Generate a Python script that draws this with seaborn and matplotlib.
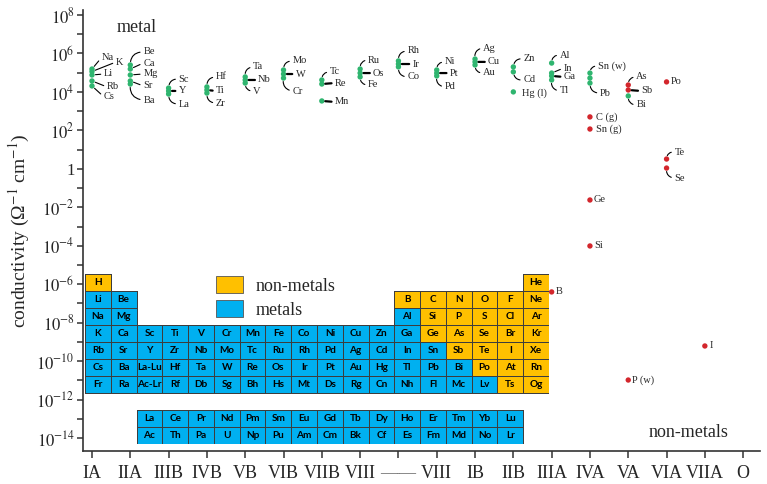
import numpy as np
import pandas as pd
import seaborn as sns
import matplotlib.pyplot as plt
from matplotlib.patches import Patch
from matplotlib.colors import ListedColormap, to_rgba
from matplotlib.ticker import FixedLocator, NullFormatter

# x axis: groups of the periodic table
group_labels = ['IA', 'IIA', 'IIIB', 'IVB', 'VB', 'VIB', 'VIIB', 'VIII', '——', 'VIII',
                'IB', 'IIB', 'IIIA', 'IVA', 'VA', 'VIA', 'VIIA', 'O']

names = ['Na', 'K', 'Li', 'Rb', 'Cs',
         'Be', 'Ca', 'Mg', 'Sr', 'Ba',
         'Sc', 'Y', 'La',
         'Hf', 'Ti', 'Zr',
         'Ta', 'Nb', 'V',
         'Mo', 'W', 'Cr',
         'Tc', 'Re', 'Mn',
         'Ru', 'Os', 'Fe',
         'Rh', 'Ir', 'Co',
         'Ni', 'Pt', 'Pd',
         'Ag', 'Cu', 'Au',
         'Zn', 'Cd', 'Hg (l)',
         'Al', 'In', 'Ga', 'Tl',
         'Sn (w)', 'Sn', 'Pb', 'C (g)', 'Sn (g)', 'Ge', 'Si',
         'As', 'Sb', 'Bi', 'P (w)',
         'Po', 'Te', 'Se',
         'I',
         'B']
group = [0, 0, 0, 0, 0,
         1, 1, 1, 1, 1,
         2, 2, 2,
         3, 3, 3,
         4, 4, 4,
         5, 5, 5,
         6, 6, 6,
         7, 7, 7,
         8, 8, 8,
         9, 9, 9,
         10, 10, 10,
         11, 11, 11,
         12, 12, 12, 12,
         13, 13, 13, 13, 13, 13, 13,
         14, 14, 14, 14,
         15, 15, 15,
         16,
         12]
log_sigma = [5.19, 5.06, 4.88, 4.57, 4.31,
             5.40, 5.19, 4.88, 4.57, 4.41,
             4.20, 4.05, 3.89,
             4.26, 4.10, 3.94,
             4.78, 4.62, 4.46,
             5.14, 4.93, 4.72,
             4.62, 4.41, 3.53,
             5.19, 4.98, 4.78,
             5.61, 5.45, 5.30,
             5.14, 4.98, 4.83,
             5.71, 5.56, 5.40,
             5.30, 5.04, 4.00,
             5.50, 4.98, 4.83, 4.62,
             4.98, 4.72, 4.46, 2.70, 2.07, -1.62, -4.01,
             4.36, 4.10, 3.79, -10.98,
             4.52, 0.51, 0.04,
             -9.21,
             -6.40]
kind = ['metal'] * 47 + ['non-metal'] * 4 + ['non-metal', 'non-metal', 'metal', 'non-metal',
                                            'non-metal', 'non-metal', 'non-metal',
                                            'non-metal',
                                            'non-metal']

# periodic table in the inset
table_rows = [
    'H . . . . . . . . . . . . . . . . He',
    'Li Be . . . . . . . . . . B C N O F Ne',
    'Na Mg . . . . . . . . . . Al Si P S Cl Ar',
    'K Ca Sc Ti V Cr Mn Fe Co Ni Cu Zn Ga Ge As Se Br Kr',
    'Rb Sr Y Zr Nb Mo Tc Ru Rh Pd Ag Cd In Sn Sb Te I Xe',
    'Cs Ba La-Lu Hf Ta W Re Os Ir Pt Au Hg Tl Pb Bi Po At Rn',
    'Fr Ra Ac-Lr Rf Db Sg Bh Hs Mt Ds Rg Cn Nh Fl Mc Lv Ts Og',
    '. . . . . . . . . . . . . . . . . .',
    '. . La Ce Pr Nd Pm Sm Eu Gd Tb Dy Ho Er Tm Yb Lu .',
    '. . Ac Th Pa U Np Pu Am Cm Bk Cf Es Fm Md No Lr .',
]
nonmetals = 'H He B C N O F Ne Si P S Cl Ar Ge As Se Br Kr Sb Te I Xe Po At Rn Ts Og'.split()

# label placement (pixels from the marker) and connector style
label_layout = {
    'Na': (10, 12, 'line'), 'K': (24, 9.5, 'line'), 'Li': (12, 1, 'line'),
    'Rb': (15, -6, 'line'), 'Cs': (12, -11, 'line'),
    'Be': (13, 13, 'up'), 'Ca': (13, 6, 'line'), 'Mg': (13, 1, 'line'),
    'Sr': (13, -5, 'line'), 'Ba': (13, -16, 'down'),
    'Sc': (10, 9, 'up'), 'Y': (10, 0, 'bar'), 'La': (10, -10, 'down'),
    'Hf': (9, 10, 'up'), 'Ti': (9, -1, 'bar'), 'Zr': (9, -10, 'down'),
    'Ta': (8, 10, 'up'), 'Nb': (13, 0, 'bar'), 'V': (8, -8, 'down'),
    'Mo': (9, 9, 'up'), 'W': (12, 0, 'bar'), 'Cr': (9, -13, 'down'),
    'Tc': (8, 8, 'up'), 'Re': (13, 1, 'bar'), 'Mn': (13, -1, 'bar'),
    'Ru': (8, 9, 'up'), 'Os': (13, 0, 'bar'), 'Fe': (8, -8, 'down'),
    'Rh': (9, 10, 'up'), 'Ir': (14, 0, 'bar'), 'Co': (9, -10, 'down'),
    'Ni': (8, 8, 'up'), 'Pt': (13, 0, 'bar'), 'Pd': (8, -11, 'down'),
    'Ag': (8, 11, 'up'), 'Cu': (13, 0, 'bar'), 'Au': (8, -8, 'down'),
    'Zn': (10, 8, 'up'), 'Cd': (10, -8, 'down'), 'Hg (l)': (9, -1, None),
    'Al': (8, 8, 'up'), 'In': (12, 5, 'line'), 'Ga': (12, -1, 'bar'), 'Tl': (8, -11, 'down'),
    'Sn (w)': (8, 7, 'up'), 'Pb': (10, -10, 'down'), 'C (g)': (6, 0, None),
    'Sn (g)': (6, 0, None), 'Ge': (4, 0, None), 'Si': (4, 0, None),
    'As': (8, 8, 'up'), 'Sb': (13, -1, 'bar'), 'Bi': (8, -9, 'down'), 'P (w)': (4, 0, None),
    'Po': (4, 0, None), 'Te': (8, 7, 'up'), 'Se': (8, -10, 'down'),
    'I': (5, 0, None), 'B': (4, 0, None),
}

GREEN = '#2fb56f'
RED = '#d3262c'
BLUE = '#00b0f0'
ORANGE = '#ffc000'
AXIS = '#333333'

sns.set_style('ticks')
plt.rcParams['font.family'] = ['Liberation Serif', 'DejaVu Serif']
plt.rcParams['mathtext.fontset'] = 'stix'

df = pd.DataFrame({'name': names, 'group': group,
                   'sigma': np.power(10.0, log_sigma), 'kind': kind})

fig = plt.figure(figsize=(7.67, 4.84), dpi=100)
ax = fig.add_axes([0.1082, 0.0682, 0.8827, 0.9112])

sns.scatterplot(data=df, x='group', y='sigma', hue='kind',
                palette={'metal': GREEN, 'non-metal': RED},
                s=15, marker='o', linewidth=0, legend=False, ax=ax, zorder=3)

ax.set_yscale('log')
ax.set_xlim(-0.235, 17.44)
ax.set_ylim(10 ** -14.67, 10 ** 8.26)

major = list(range(-14, 9, 2))
ax.yaxis.set_major_locator(FixedLocator([10.0 ** k for k in major]))
ax.set_yticklabels(['1' if k == 0 else '$10^{%d}$' % k for k in major])
ax.yaxis.set_minor_locator(FixedLocator([10.0 ** k for k in range(-13, 8, 2)]))
ax.yaxis.set_minor_formatter(NullFormatter())

ax.set_xticks(range(len(group_labels)))
ax.set_xticklabels(group_labels)
ax.get_xticklabels()[8].set_color('#666666')

ax.tick_params(axis='y', which='both', direction='out', length=4, width=1.1,
               color=AXIS, labelsize=12, pad=2)
ax.tick_params(axis='x', direction='out', length=5, width=1.1, color=AXIS,
               labelsize=13, pad=5)
for side in ['top', 'right']:
    ax.spines[side].set_visible(False)
for side in ['left', 'bottom']:
    ax.spines[side].set_linewidth(1.2)
    ax.spines[side].set_color(AXIS)

ax.set_xlabel('')
ax.set_ylabel('conductivity (Ω$^{-1}$ cm$^{-1}$)', fontsize=14, labelpad=3)

# element labels with their connectors
for row in df.itertuples():
    if row.name not in label_layout:
        continue
    dx, dy, style = label_layout[row.name]
    kw = dict(xy=(row.group, row.sigma), xytext=(dx, dy), textcoords='offset pixels',
              ha='left', va='center', fontsize=7.5, zorder=4)
    if style is not None:
        rad = {'up': 0.5, 'down': -0.5}.get(style, 0.0)
        kw['arrowprops'] = dict(arrowstyle='-', color='black',
                                lw=1.6 if style == 'bar' else 0.8,
                                shrinkA=0, shrinkB=2.5, relpos=(0, 0.5),
                                connectionstyle='arc3,rad=%.2f' % rad)
    ax.annotate(row.name, **kw)

ax.text(0.08, 0.961, 'metal', transform=ax.transAxes, ha='center', va='center', fontsize=13)
ax.text(0.895, 0.041, 'non-metals', transform=ax.transAxes, ha='center', va='center',
        fontsize=13)

handles = [Patch(facecolor=ORANGE, edgecolor='#555555', linewidth=0.6),
           Patch(facecolor=BLUE, edgecolor='#555555', linewidth=0.6)]
ax.legend(handles, ['non-metals', 'metals'], loc='upper left',
          bbox_to_anchor=(0.172, 0.433), frameon=False, fontsize=13,
          handlelength=1.5, handleheight=1.05, handletextpad=0.7, labelspacing=0.3,
          borderpad=0.4)

# periodic table inset, drawn as a heatmap
cells = [r.split() for r in table_rows]
grid = np.array([[np.nan if c == '.' else (1.0 if c in nonmetals else 0.0) for c in r]
                 for r in cells])
annot = np.array([['' if c == '.' else c for c in r] for r in cells])

tab = fig.add_axes([0.1108, 0.0826, 0.6050, 0.3512])
sns.heatmap(grid, ax=tab, cmap=ListedColormap([BLUE, ORANGE]), vmin=0, vmax=1,
            cbar=False, annot=annot, fmt='', linewidths=0.6, linecolor='#3d3d3d',
            xticklabels=False, yticklabels=False,
            annot_kws=dict(color='black', fontsize=7.2, fontweight='bold', family='Lato'))
mesh = tab.collections[0]
edge = np.array([to_rgba('#3d3d3d') if np.isfinite(v) else (0, 0, 0, 0)
                 for v in grid.ravel()])
mesh.set_edgecolor(edge)
tab.axis('off')

fig.savefig('out.png', dpi=100)
